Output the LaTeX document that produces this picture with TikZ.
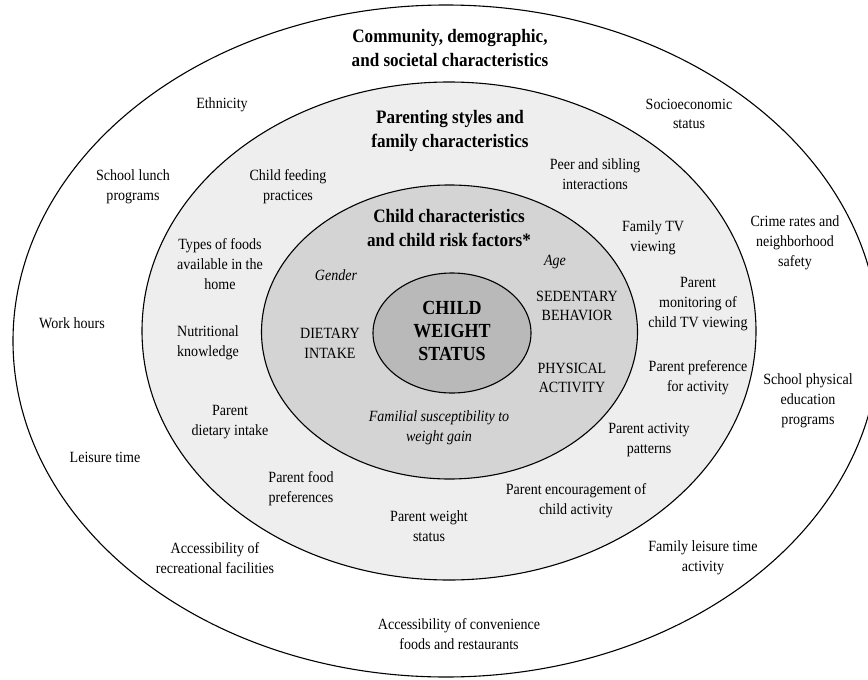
\documentclass[tikz,border=0pt]{standalone}
\usepackage{fontspec}
\setmainfont{Liberation Serif}[FakeStretch=0.9]
\usetikzlibrary{positioning}

\begin{document}
\begin{tikzpicture}[x=1pt,y=-1pt]
  \tikzset{ring/.style={draw=black, line width=1.1pt}}
  \tikzset{factor/.style={align=center, inner sep=0pt,
      font=\fontsize{15.6}{19.8}\selectfont}}
  \tikzset{risk/.style={factor, font=\fontsize{15.6}{19.8}\selectfont\itshape}}
  \tikzset{heading/.style={align=center, inner sep=0pt,
      font=\fontsize{19}{24}\selectfont\bfseries}}
  \tikzset{core/.style={align=center, inner sep=0pt,
      font=\fontsize{20}{23}\selectfont\bfseries}}
  \useasboundingbox (0,0) rectangle (868,680);
  % the four levels
  \filldraw[ring, fill=white]   (446,341)   ellipse [x radius=433pt, y radius=336pt];
  \filldraw[ring, fill=gray!13] (449,331)   ellipse [x radius=307pt, y radius=249pt];
  \filldraw[ring, fill=gray!34] (449.5,332) ellipse [x radius=188pt, y radius=147pt];
  \filldraw[ring, fill=gray!55] (452,333)   ellipse [x radius=79pt, y radius=60pt];
  % community level
  \node[heading] (community) at (450,48) {Community, demographic,\\and societal characteristics};
  \node[factor] (ethnicity) at (222,105) {Ethnicity};
  \node[factor] (ses) at (689,114) {Socioeconomic\\status};
  \node[factor] (lunch) at (133,187) {School lunch\\programs};
  \node[factor] (crime) at (795,243) {Crime rates and\\neighborhood\\safety};
  \node[factor] (work) at (72,323) {Work hours};
  \node[factor] (physed) at (808,401) {School physical\\education\\programs};
  \node[factor] (leisure) at (105,457) {Leisure time};
  \node[factor] (recfac) at (215,558) {Accessibility of\\recreational facilities};
  \node[factor] (famleisure) at (703,558) {Family leisure time\\activity};
  \node[factor] (convenience) at (459,634) {Accessibility of convenience\\foods and restaurants};
  % family level
  \node[heading] (family) at (450,131) {Parenting styles and\\family characteristics};
  \node[factor] (feeding) at (288,187) {Child feeding\\practices};
  \node[factor] (peer) at (595,174) {Peer and sibling\\interactions};
  \node[factor] (famtv) at (653,238) {Family TV\\viewing};
  \node[factor] (foods) at (220,264) {Types of foods\\available in the\\home};
  \node[factor] (monitor) at (698,304) {Parent\\monitoring of\\child TV viewing};
  \node[factor] (knowledge) at (208,343) {Nutritional\\knowledge};
  \node[factor] (preference) at (698,378) {Parent preference\\for activity};
  \node[factor] (pdiet) at (230,422) {Parent\\dietary intake};
  \node[factor] (pactivity) at (649,440) {Parent activity\\patterns};
  \node[factor] (pfood) at (301,489) {Parent food\\preferences};
  \node[factor] (encourage) at (576,501) {Parent encouragement of\\child activity};
  \node[factor] (pweight) at (429,526) {Parent weight\\status};
  % child level
  \node[heading] (child) at (449,228) {Child characteristics\\and child risk factors*};
  \node[risk] (gender) at (336,275) {Gender};
  \node[risk] (age) at (555,262) {Age};
  \node[factor] (sedentary) at (577,306) {SEDENTARY\\BEHAVIOR};
  \node[factor] (dietary) at (330,343) {DIETARY\\INTAKE};
  \node[factor] (physical) at (572,378) {PHYSICAL\\ACTIVITY};
  \node[risk] (familial) at (439,428) {Familial susceptibility to\\weight gain};
  % centre
  \node[core] (status) at (452,331) {CHILD\\WEIGHT\\STATUS};
\end{tikzpicture}
\end{document}
